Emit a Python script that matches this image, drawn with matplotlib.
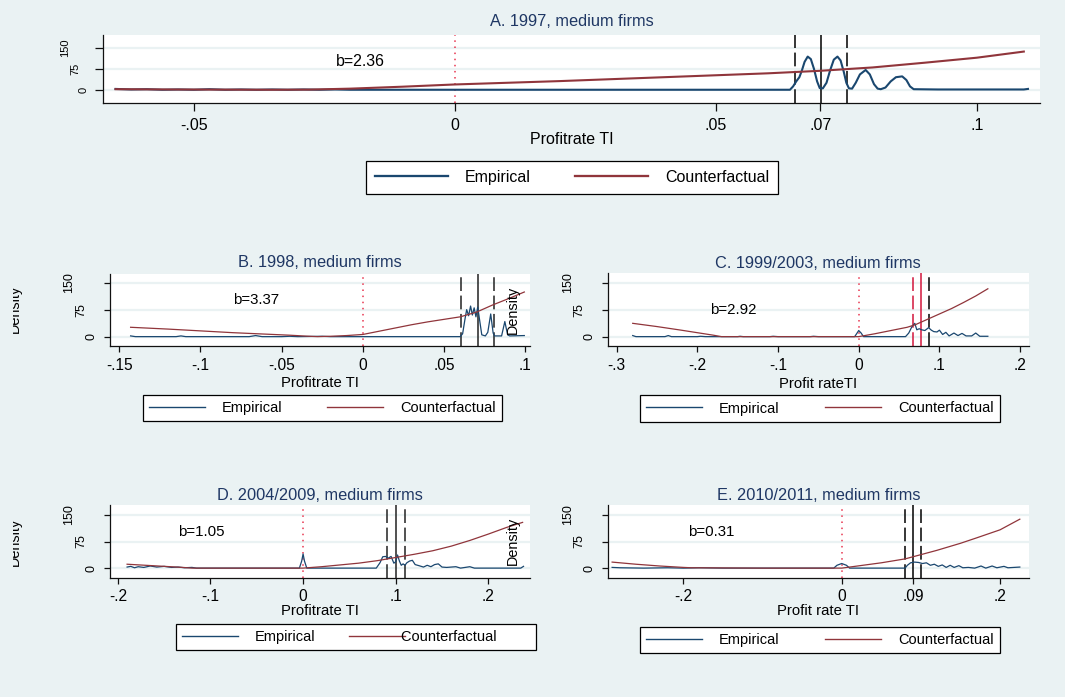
import numpy as np
import matplotlib.pyplot as plt
from matplotlib.patches import Rectangle
from matplotlib.legend_handler import HandlerLine2D
from matplotlib.transforms import blended_transform_factory, ScaledTranslation

plt.rcParams['font.family'] = ['Liberation Sans', 'DejaVu Sans']

W, H = 1065, 697
BG = '#eaf2f3'
NAVY = '#1a476f'
MAROON = '#90353b'
PINK = '#e8354f'
CRIMSON = '#d2163c'
TITLE_C = '#1f3764'

# ---- data ----
emp_a_x = [-0.065, -0.062, -0.059, -0.056, -0.053, -0.050, -0.047, -0.044, -0.041, -0.038,
           -0.035, -0.032, -0.029, -0.026, -0.023, -0.020, 0.030, 0.0642, 0.0648, 0.0654,
           0.0660, 0.0665, 0.0670, 0.0676, 0.0682, 0.0688, 0.0694, 0.0699, 0.0705, 0.0712,
           0.0719, 0.0726, 0.0733, 0.0739, 0.0745, 0.0750, 0.0755, 0.0761, 0.0768, 0.0776,
           0.0787, 0.0795, 0.0803, 0.0810, 0.0816, 0.0825, 0.0835, 0.0845, 0.0857, 0.0865,
           0.0872, 0.0879, 0.0925, 0.1090, 0.1098]
emp_a_y = [3, 1, 2, 0, 1, 0, 2, 0, 1, 0,
           1, 0, 1, 0, 1, 0, 0, 0, 12, 30,
           45, 70, 100, 119, 110, 75, 30, 6, 5, 25,
           70, 108, 119, 105, 65, 25, 5, 4, 25, 55,
           71, 55, 20, 4, 2, 8, 30, 45, 48, 35,
           12, 2, 1, 1, 3]
cf_a_x = [-0.065, -0.055, -0.045, -0.035, -0.028, -0.02, -0.01, 0.0, 0.01, 0.02,
          0.03, 0.04, 0.05, 0.06, 0.07, 0.08, 0.09, 0.1, 0.109]
cf_a_y = [2, 1, 0.5, 0, 0.5, 4, 11, 19, 25, 31, 38, 45, 52, 59, 68, 80, 97, 115, 137]

emp_b_x = [-0.143, -0.14, -0.115, -0.112, -0.109, -0.07, -0.066, -0.062, -0.05, -0.045,
           -0.04, -0.025, -0.02, 0.06, 0.0615, 0.063, 0.064, 0.0652, 0.0664, 0.0675,
           0.0686, 0.0697, 0.0708, 0.072, 0.0733, 0.0755, 0.077, 0.0788, 0.0803, 0.0812,
           0.0855, 0.0875, 0.0892, 0.0905, 0.0995]
emp_b_y = [2, 0, 0, 2, 0, 0, 3, 0, 0, 1,
           0, 1, 0, 0, 8, 50, 75, 58, 85, 60,
           80, 55, 82, 45, 5, 2, 12, 63, 10, 2,
           2, 42, 5, 2, 3]
cf_b_x = [-0.143, -0.12, -0.1, -0.08, -0.06, -0.045, -0.035, -0.028, -0.02, -0.01,
          0.0, 0.01, 0.02, 0.03, 0.04, 0.05, 0.06, 0.07, 0.08, 0.09, 0.0995]
cf_b_y = [26, 21, 16, 11, 7, 4, 1.5, 0, 1, 3, 6, 15, 24, 33, 41, 48, 55, 68, 88, 106, 124]

emp_c_x = [-0.28, -0.276, -0.24, -0.236, -0.232, -0.2, -0.196, -0.19, -0.15, -0.147,
           -0.143, -0.11, -0.106, -0.1, -0.06, -0.056, -0.05, -0.005, -0.002, 0.0,
           0.003, 0.006, 0.058, 0.062, 0.066, 0.0695, 0.072, 0.075, 0.078, 0.082,
           0.0866, 0.09, 0.093, 0.097, 0.1, 0.104, 0.108, 0.112, 0.118, 0.123,
           0.128, 0.133, 0.14, 0.145, 0.15, 0.16]
emp_c_y = [3, 0, 0, 3, 0, 0, 1, 0, 0, 1,
           0, 0, 1, 0, 0, 1, 0, 0, 10, 17,
           10, 0, 0, 10, 28, 37, 19, 22, 19, 17,
           25, 18, 14, 13, 18, 6, 12, 2, 10, 3,
           9, 2, 2, 10, 1, 1]
cf_c_x = [-0.28, -0.25, -0.22, -0.2, -0.18, -0.17, -0.1, 0.0, 0.02, 0.04,
          0.06, 0.07, 0.087, 0.1, 0.115, 0.13, 0.145, 0.16]
cf_c_y = [37, 28, 18, 11, 4, 0, 0, 0, 8, 17, 26, 33, 50, 63, 78, 95, 113, 133]

emp_d_x = [-0.19, -0.186, -0.182, -0.178, -0.172, -0.165, -0.158, -0.15, -0.142, -0.135,
           -0.128, -0.12, -0.115, -0.004, -0.0015, 0.0, 0.0015, 0.004, 0.079, 0.083,
           0.086, 0.089, 0.092, 0.095, 0.098, 0.1, 0.102, 0.104, 0.106, 0.108,
           0.11, 0.112, 0.115, 0.118, 0.121, 0.125, 0.13, 0.134, 0.138, 0.142,
           0.146, 0.15, 0.155, 0.165, 0.17, 0.18, 0.185, 0.235, 0.238]
emp_d_y = [3, 5, 1, 4, 2, 6, 3, 5, 2, 3,
           1, 2, 0, 0, 20, 40, 20, 0, 0, 15,
           32, 33, 28, 33, 14, 18, 37, 20, 8, 12,
           8, 15, 20, 22, 10, 7, 3, 8, 4, 10,
           12, 3, 2, 4, 0, 4, 0, 0, 5]
cf_d_x = [-0.19, -0.17, -0.15, -0.13, -0.12, 0.0, 0.02, 0.04, 0.06, 0.08,
          0.1, 0.12, 0.14, 0.16, 0.18, 0.2, 0.22, 0.237]
cf_d_y = [11, 8, 5, 2, 0, 0, 4, 9, 14, 21, 30, 39, 49, 62, 78, 96, 115, 129]

emp_e_x = [-0.29, -0.28, -0.25, -0.22, -0.2, -0.18, -0.15, -0.01, -0.006, 0.0,
           0.006, 0.01, 0.08, 0.083, 0.087, 0.092, 0.097, 0.102, 0.107, 0.112,
           0.117, 0.122, 0.127, 0.132, 0.137, 0.142, 0.148, 0.153, 0.16, 0.168,
           0.176, 0.182, 0.19, 0.196, 0.205, 0.21, 0.225]
emp_e_y = [2, 1, 0, 1, 0, 1, 0, 0, 8, 13,
           8, 0, 0, 8, 15, 17, 16, 13, 15, 8,
           11, 5, 9, 2, 8, 2, 7, 1, 2, 0,
           6, 0, 6, 1, 5, 1, 3]
cf_e_x = [-0.29, -0.26, -0.23, -0.2, -0.19, -0.1, 0.0, 0.02, 0.05, 0.08,
          0.1, 0.12, 0.15, 0.17, 0.2, 0.225]
cf_e_y = [17, 11, 6, 2, 1, 0, 0, 6, 15, 26, 38, 50, 70, 85, 108, 138]

# percentile lines (lower, median, upper)
vl_a = [0.0651, 0.0701, 0.0751]
vl_b = [0.0605, 0.0708, 0.0806]
vl_c = [0.0673, 0.0777, 0.0871]
vl_d = [0.0905, 0.1005, 0.1098]
vl_e = [0.0800, 0.0905, 0.1002]

titles = ['A. 1997, medium firms', 'B. 1998, medium firms', 'C. 1999/2003, medium firms',
          'D. 2004/2009, medium firms', 'E. 2010/2011, medium firms']
xlabels = ['Profitrate TI', 'Profitrate TI', 'Profit rateTI', 'Profitrate TI', 'Profit rate TI']
b_labels = ['b=2.36', 'b=3.37', 'b=2.92', 'b=1.05', 'b=0.31']
b_pos = [(-0.0228, 100), (-0.0796, 102), (-0.184, 74), (-0.135, 102), (-0.194, 102)]

xt_a = [-0.05, 0, 0.05, 0.07, 0.1]
xt_a_lab = ['-.05', '0', '.05', '.07', '.1']
xt_b = [-0.15, -0.1, -0.05, 0, 0.05, 0.1]
xt_b_lab = ['-.15', '-.1', '-.05', '0', '.05', '.1']
xt_c = [-0.3, -0.2, -0.1, 0, 0.1, 0.2]
xt_c_lab = ['-.3', '-.2', '-.1', '0', '.1', '.2']
xt_d = [-0.2, -0.1, 0, 0.1, 0.2]
xt_d_lab = ['-.2', '-.1', '0', '.1', '.2']
xt_e = [-0.2, 0, 0.09, 0.2]
xt_e_lab = ['-.2', '0', '.09', '.2']
yt = [0, 75, 150]
yt_lab = ['0', '75', '150']
legend_labels = ['Empirical', 'Counterfactual']


class ShiftedLine(HandlerLine2D):
    def __init__(self, shift, **kw):
        super().__init__(**kw)
        self.shift = shift

    def create_artists(self, legend, orig_handle, xdescent, ydescent, width, height, fontsize, trans):
        arts = super().create_artists(legend, orig_handle, xdescent, ydescent, width, height, fontsize, trans)
        for a in arts:
            a.set_xdata(np.asarray(a.get_xdata()) + self.shift)
        return arts


fig = plt.figure(figsize=(W / 100, H / 100), dpi=100, facecolor=BG)


def fx(px):
    return px / W


def fy(py):
    return 1 - py / H


def panel(box, xlim, ylim, ex, ey, cx, cy, vl, vcols, xt, xtl, title, title_y, xlab, xlab_y,
          btxt, bxy, leg_box, big=False, leg_shift=None, cf_label='Counterfactual'):
    l, t, r, b = box
    ax = fig.add_axes([fx(l), fy(b), (r - l) / W, (b - t) / H])
    ax.set_facecolor('white')
    for s in ['top', 'right']:
        ax.spines[s].set_visible(False)
    for s in ['left', 'bottom']:
        ax.spines[s].set_linewidth(0.9)
        ax.spines[s].set_color('#111111')
    for v in yt:
        ax.axhline(v, color=BG, lw=1.6, zorder=0)
    lw = 1.5 if big else 0.9
    ax.axvline(0, color=PINK, lw=1.1, ls=(0, (1, 3)), zorder=1)
    styles = [(0, (9, 3)), '-', (0, (9, 3))]
    for v, st, col in zip(vl, styles, vcols):
        ax.axvline(v, color=col, lw=1.1, ls=st, zorder=2)
    le, = ax.plot(ex, ey, color=NAVY, lw=lw, zorder=3)
    lc, = ax.plot(cx, cy, color=MAROON, lw=lw, zorder=4)
    ax.set_xlim(*xlim)
    ax.set_ylim(*ylim)

    fs_tick = 11.5 if big else 11.2
    ax.set_xticks(xt)
    ax.set_xticklabels(xtl, fontsize=fs_tick)
    ax.tick_params(axis='x', length=5.8 if big else 4, width=0.9, pad=4.8 if big else 4.4,
                   color='#111111')
    ax.set_yticks(yt)
    ax.set_yticklabels([])
    ax.tick_params(axis='y', length=5.8 if big else 4, width=0.9, color='#111111')
    offs = {1: 19, 2: 28, 3: 38} if big else {1: 18, 2: 28, 3: 40}
    tr = blended_transform_factory(ax.transAxes, ax.transData)
    for v, lab in zip(yt, yt_lab):
        ax.text(0, v, lab, rotation=90, ha='center', va='center', fontsize=8 if big else 9,
                transform=tr + ScaledTranslation(-offs[len(lab)] / 100, 0, fig.dpi_scale_trans))

    ax.text(bxy[0], bxy[1], btxt, ha='left', va='center', fontsize=11.4 if big else 10.8)
    cxp = (l + r) / 2
    fig.text(fx(cxp), fy(title_y), title, ha='center', va='center', fontsize=11.8, color=TITLE_C)
    fig.text(fx(cxp), fy(xlab_y), xlab, ha='center', va='center', fontsize=11.5 if big else 10.7)

    x0, y0, x1, y1 = leg_box
    fs_leg = 11.5 if big else 10.5
    hmap = {}
    if leg_shift is not None:
        hmap = {lc: ShiftedLine(leg_shift)}
    leg = ax.legend([le, lc], [legend_labels[0], cf_label], loc='center', ncol=2, mode='expand',
                    bbox_to_anchor=(fx(x0), fy(y1), (x1 - x0) / W, (y1 - y0) / H),
                    bbox_transform=fig.transFigure, fontsize=fs_leg, frameon=True,
                    fancybox=False, framealpha=1, edgecolor='black', borderaxespad=0,
                    handlelength=4.6 if big else 3.85, handletextpad=1.05 if big else 1.15,
                    borderpad=0.56 if big else 0.42, handler_map=hmap)
    leg.get_frame().set_linewidth(0.9)
    for h in leg.get_lines():
        h.set_linewidth(lw * 1.1)
    return ax


panel((103, 34.7, 1040, 103), (-0.0674, 0.1121), (-47.5, 197.5), emp_a_x, emp_a_y, cf_a_x, cf_a_y,
      vl_a, ['black'] * 3, xt_a, xt_a_lab, titles[0], 22, xlabels[0], 139,
      b_labels[0], b_pos[0], (366, 159, 778, 196), big=True)
panel((109.5, 274, 530, 346), (-0.156, 0.103), (-26, 174), emp_b_x, emp_b_y, cf_b_x, cf_b_y,
      vl_b, ['#222222'] * 3, xt_b, xt_b_lab, titles[1], 262.7, xlabels[1], 383.3,
      b_labels[1], b_pos[1], (142.7, 394, 501.7, 421.7))
panel((607.7, 273.3, 1029, 346), (-0.311, 0.211), (-26, 176), emp_c_x, emp_c_y, cf_c_x, cf_c_y,
      vl_c, [CRIMSON, CRIMSON, 'black'], xt_c, xt_c_lab, titles[2], 263.3, xlabels[2], 384.3,
      b_labels[2], b_pos[2], (640, 394.5, 1000, 422.5))
panel((109.5, 505, 530, 577.7), (-0.209, 0.245), (-27, 178), emp_d_x, emp_d_y, cf_d_x, cf_d_y,
      vl_d, ['#222222'] * 3, xt_d, xt_d_lab, titles[3], 495, xlabels[3], 610.7,
      b_labels[3], b_pos[3], (175.7, 623, 536, 651), leg_shift=15.1,
      cf_label='Counterfactual' + ' ' * 8)
panel((607.7, 505, 1029, 577.7), (-0.2956, 0.2366), (-27, 178), emp_e_x, emp_e_y, cf_e_x, cf_e_y,
      vl_e, ['black'] * 3, xt_e, xt_e_lab, titles[4], 495, xlabels[4], 611,
      b_labels[4], b_pos[4], (640, 625.7, 1000, 654))

# stray y titles of the combined graph
for (x, y) in [(513, 310), (513, 541), (15, 309), (15, 542)]:
    fig.text(fx(x), fy(y), 'Density', rotation=90, ha='center', va='center', fontsize=10.4)
fig.add_artist(Rectangle((0, 0), 12.7 / W, 1, transform=fig.transFigure,
                         facecolor=BG, edgecolor='none', zorder=10))

fig.savefig('out.png', dpi=100, facecolor=BG)
